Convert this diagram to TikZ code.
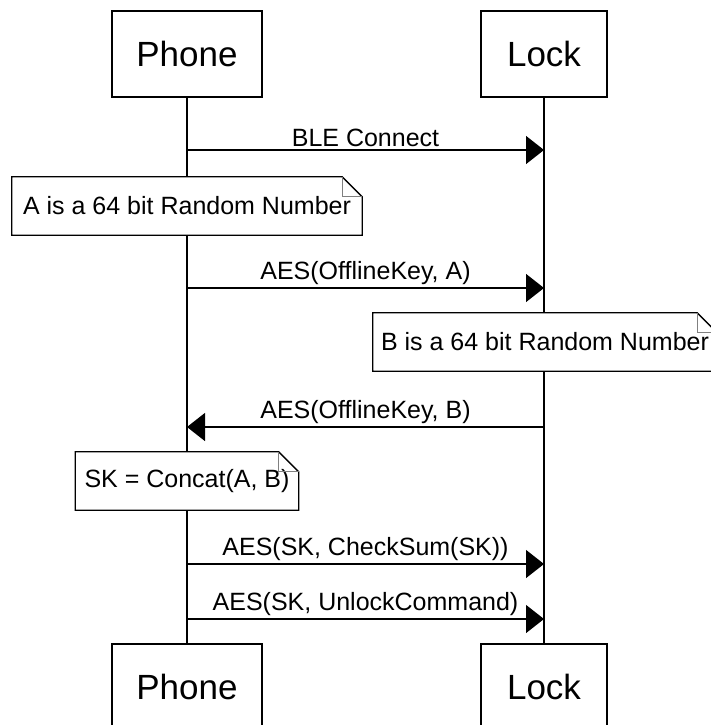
\documentclass[tikz,border=0pt]{standalone}
\usepackage{fontspec}
\setmainfont{Liberation Sans}
\usetikzlibrary{arrows.meta}

\tikzset{
  actor/.style={draw, line width=1.3pt, minimum height=86pt, font=\fontsize{35}{40}\selectfont},
  note/.style={fill=white, minimum height=58pt, inner xsep=8pt, font=\fontsize{25}{30}\selectfont},
  msg/.style={line width=1.3pt, -{Triangle[length=18pt,width=28pt]}},
  lbl/.style={above, inner sep=3pt, font=\fontsize{25}{30}\selectfont},
}
% outline of a note with a folded corner
\newcommand{\noteframe}[1]{%
  \draw[line width=1.3pt] (#1.north west) -- ([xshift=-20pt]#1.north east)
    -- ([yshift=-20pt]#1.north east) -- (#1.south east) -- (#1.south west) -- cycle;
  \draw[line width=1pt, gray] ([xshift=-20pt]#1.north east)
    -- ([xshift=-20pt,yshift=-20pt]#1.north east) -- ([yshift=-20pt]#1.north east);}

\begin{document}
\begin{tikzpicture}[x=1pt, y=-1pt]
\useasboundingbox (0,0) rectangle (710,725);
% actors
\node[actor, minimum width=150pt] (phoneTop) at (187,54) {Phone};
\node[actor, minimum width=126pt] (lockTop) at (544,54) {Lock};
\node[actor, minimum width=150pt] (phoneBot) at (187,687) {Phone};
\node[actor, minimum width=126pt] (lockBot) at (544,687) {Lock};
% lifelines
\draw[line width=1.3pt] (phoneTop) -- (phoneBot);
\draw[line width=1.3pt] (lockTop) -- (lockBot);
% points on the lifelines
\coordinate (p1) at (187,150); \coordinate (l1) at (544,150);
\coordinate (p2) at (187,288); \coordinate (l2) at (544,288);
\coordinate (p3) at (187,427); \coordinate (l3) at (544,427);
\coordinate (p4) at (187,564); \coordinate (l4) at (544,564);
\coordinate (p5) at (187,619); \coordinate (l5) at (544,619);
% messages
\draw[msg] (p1) -- node[lbl] {BLE Connect} (l1);
\draw[msg] (p2) -- node[lbl] {AES(OfflineKey, A)} (l2);
\draw[msg] (l3) -- node[lbl] {AES(OfflineKey, B)} (p3);
\draw[msg] (p4) -- node[lbl] {AES(SK, CheckSum(SK))} (l4);
\draw[msg] (p5) -- node[lbl] {AES(SK, UnlockCommand)} (l5);
% notes
\node[note, minimum width=350pt] (noteA) at (187,206) {A is a 64 bit Random Number};
\noteframe{noteA}
\node[note, minimum width=344pt] (noteB) at (545,342) {B is a 64 bit Random Number};
\noteframe{noteB}
\node[note, minimum width=223pt] (noteSK) at (187,481) {SK = Concat(A, B)};
\noteframe{noteSK}
\end{tikzpicture}
\end{document}
